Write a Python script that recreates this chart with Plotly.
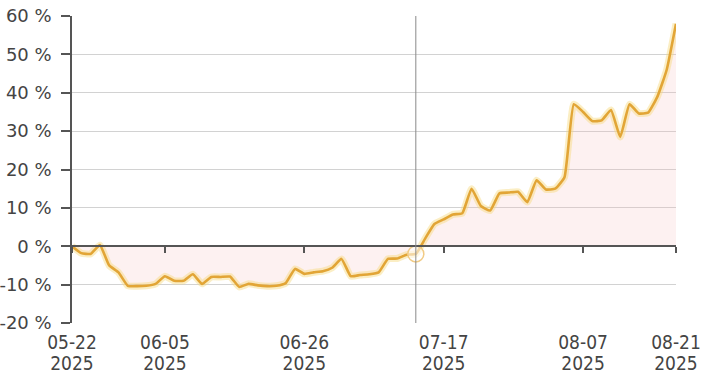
import pandas as pd
import plotly.graph_objects as go

# ---- data ----
dates = [d.strftime("%Y-%m-%d") for d in pd.bdate_range("2025-05-22", "2025-08-21")]
returns_pct = [
    0.0, -1.8, -2.0, 0.3, -5.0, -6.8, -10.3, -10.4, -10.3, -9.8,
    -7.8, -9.0, -9.0, -7.3, -9.8, -8.0, -8.0, -7.9, -10.6, -9.8,
    -10.2, -10.4, -10.3, -9.6, -5.9, -7.2, -6.8, -6.5, -5.6, -3.3,
    -7.8, -7.5, -7.3, -6.8, -3.3, -3.2, -2.2, -2.0, 2.0, 5.8,
    7.0, 8.3, 8.6, 15.0, 10.5, 9.3, 13.8, 14.0, 14.2, 11.5,
    17.2, 14.8, 15.0, 18.0, 37.0, 35.0, 32.6, 32.8, 35.5, 28.5,
    37.0, 34.6, 34.8, 39.0, 46.0, 58.0,
]
tick_dates = ["2025-05-22", "2025-06-05", "2025-06-26", "2025-07-17", "2025-08-07", "2025-08-21"]
tick_md = [d[5:] for d in tick_dates]
tick_year = [d[:4] for d in tick_dates]
y_ticks = [-20, -10, 0, 10, 20, 30, 40, 50, 60]
hover_date = "2025-07-14"
hover_value = returns_pct[dates.index(hover_date)]

LINE = "#E2A536"
TXT = "#444444"
AX = "#555555"
XFONT = dict(family="DejaVu Sans Condensed, DejaVu Sans", size=19, color=TXT)

fig = go.Figure()
# fill + glow
fig.add_trace(go.Scatter(x=dates, y=returns_pct, mode="lines", fill="tozeroy",
                         fillcolor="rgba(245,185,185,0.2)",
                         line=dict(color="rgba(247,218,125,0.45)", width=7,
                                   shape="spline", smoothing=0.4),
                         hoverinfo="skip", showlegend=False))
fig.add_trace(go.Scatter(x=dates, y=returns_pct, mode="lines",
                         line=dict(color=LINE, width=2.6, shape="spline", smoothing=0.4),
                         showlegend=False))
fig.add_trace(go.Scatter(x=[hover_date], y=[hover_value], mode="markers",
                         marker=dict(size=16, color="rgba(255,255,255,0.55)",
                                     line=dict(color="#F1CB85", width=1.5)),
                         showlegend=False))
# helper traces for overlay axes
for ax in ["x2", "x3"]:
    fig.add_trace(go.Scatter(x=dates, y=returns_pct, xaxis=ax, mode="lines",
                             opacity=0, hoverinfo="skip", showlegend=False))

fig.add_shape(type="line", xref="x", yref="paper", x0=hover_date, x1=hover_date,
              y0=0, y1=1, line=dict(color="#8a8a8a", width=1), layer="above")

fig.update_layout(
    width=719, height=387,
    margin=dict(l=72, r=43, t=16, b=64, autoexpand=False),
    paper_bgcolor="white", plot_bgcolor="white",
    xaxis=dict(type="category", categoryorder="array", categoryarray=dates,
               range=[0, len(dates) - 1], showgrid=False, zeroline=False, showline=False,
               ticks="", tickmode="array", tickvals=tick_dates, ticktext=tick_md,
               tickfont=XFONT, ticklabelstandoff=6, automargin=False),
    xaxis2=dict(type="category", matches="x", overlaying="x", anchor="free", position=0.25,
                showgrid=False, zeroline=False, showline=True, linecolor=AX, linewidth=1.5,
                ticks="outside", ticklen=6, tickcolor=AX, tickwidth=1.5,
                tickmode="array", tickvals=tick_dates, showticklabels=False, automargin=False),
    xaxis3=dict(type="category", matches="x", overlaying="x", anchor="y",
                showgrid=False, zeroline=False, showline=False, ticks="",
                tickmode="array", tickvals=tick_dates, ticktext=tick_year,
                tickfont=XFONT, ticklabelstandoff=27, automargin=False),
    yaxis=dict(range=[-20, 60], tickmode="array", tickvals=y_ticks,
               ticktext=[f"{v} %" for v in y_ticks],
               showgrid=True, gridcolor="#d2d2d2", gridwidth=1, zeroline=False,
               showline=True, linecolor=AX, linewidth=1.5,
               ticks="outside", ticklen=9, tickcolor=AX, tickwidth=1.5,
               tickfont=dict(family="DejaVu Sans", size=18, color=TXT),
               ticklabelstandoff=6, automargin=False),
)

fig.write_html("out.html")
